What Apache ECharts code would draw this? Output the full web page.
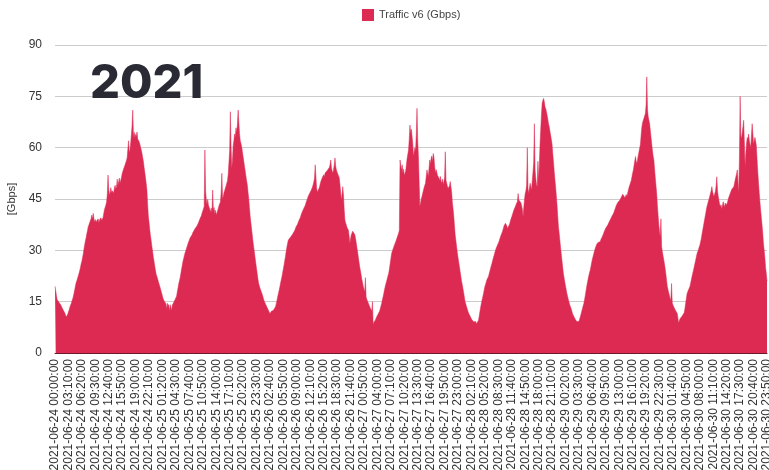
<!DOCTYPE html>
<html>
<head>
<meta charset="utf-8">
<script src="https://cdn.jsdelivr.net/npm/echarts@6/dist/echarts.min.js"></script>
<style>
html,body{margin:0;padding:0;background:#fff;}
#chart{width:769px;height:470px;}
</style>
</head>
<body>
<div id="chart"></div>
<script>
// Category axis: 10-minute samples from 2021-06-24 00:00 to 2021-06-30 23:50
const days = ["2021-06-24","2021-06-25","2021-06-26","2021-06-27","2021-06-28","2021-06-29","2021-06-30"];
const yTicks = [0, 15, 30, 45, 60, 75, 90];
const seriesName = "Traffic v6 (Gbps)";
const yAxisName = "[Gbps]";
const yearTitle = "2021";

// Traffic values (Gbps), one array per day, 144 samples each
const day1 = [
19.5,18.2,16.8,15.6,15.2,15.0,14.6,14.9,14.1,13.6,13.2,12.9,
12.4,12.0,11.6,11.1,10.5,10.9,11.3,12.0,12.6,13.4,13.9,14.5,
15.2,15.8,16.6,17.5,18.6,19.7,20.6,21.2,21.9,22.6,23.3,24.1,
25.0,26.1,26.8,27.9,29.0,30.4,31.6,32.8,33.7,34.9,35.8,36.9,
37.5,38.1,38.6,39.2,40.3,39.1,40.8,39.4,38.2,39.0,38.3,37.8,
38.6,39.2,38.0,38.9,38.4,39.5,38.7,38.9,39.6,40.8,41.9,42.6,
43.3,44.1,46.5,52.0,47.8,46.2,46.9,48.3,46.8,47.4,47.9,46.7,
48.2,49.0,47.9,48.6,50.8,48.9,49.4,51.1,49.6,50.5,51.3,52.4,
53.1,53.8,54.2,54.9,55.6,56.2,57.0,59.5,62.0,58.6,59.3,61.2,
63.8,66.5,71.0,63.1,64.5,62.8,63.9,63.2,64.6,62.5,62.9,61.7,
61.0,60.2,59.3,58.4,57.1,56.0,54.3,52.8,51.2,49.5,47.6,43.5,
40.0,38.2,36.1,34.3,32.9,31.2,29.8,28.1,26.9,25.5,24.3,23.1
];
const day2 = [
22.6,21.8,21.0,20.3,19.6,18.9,18.1,17.4,16.6,15.8,15.3,15.0,
14.6,14.4,12.8,14.5,14.2,13.9,12.2,14.1,13.6,12.4,14.0,14.5,
14.8,15.3,15.7,16.1,16.6,17.9,19.0,20.2,21.1,22.0,23.2,24.5,
25.6,26.8,27.6,28.5,29.3,29.9,30.6,31.2,31.9,32.4,33.0,33.6,
34.1,33.8,34.6,35.2,35.0,35.7,36.3,35.9,36.5,37.2,36.8,38.1,
38.6,39.2,38.9,40.1,40.9,41.5,42.0,42.8,59.3,47.5,44.7,43.4,
44.9,43.2,42.6,43.0,41.3,42.4,40.9,47.6,41.8,42.5,40.6,41.7,
40.3,40.8,41.6,42.3,43.1,42.7,44.2,47.0,52.5,45.1,45.7,46.8,
47.5,48.2,48.9,48.6,50.4,52.3,55.6,59.0,70.5,60.2,54.0,56.3,
60.5,62.1,64.0,63.2,65.8,64.4,66.9,71.0,67.5,64.1,62.0,61.2,
60.3,58.9,57.4,56.0,54.6,53.2,51.7,50.3,49.1,47.0,45.1,42.5,
40.0,38.1,36.3,34.5,32.6,31.0,29.5,27.8,26.2,24.7,23.2,21.6
];
const day3 = [
20.4,19.6,18.9,18.3,17.8,17.2,16.5,15.7,15.1,14.6,14.2,13.8,
13.3,12.9,12.4,11.9,11.5,11.8,12.2,11.7,12.0,12.5,12.3,12.8,
13.6,14.5,15.4,16.5,17.4,18.3,19.3,20.4,21.4,22.3,23.5,24.6,
25.8,27.0,28.3,29.7,31.0,32.1,33.0,33.4,33.1,33.8,34.2,34.0,
34.7,35.2,35.0,35.8,36.3,36.9,37.2,37.6,38.1,38.7,39.0,39.6,
40.3,40.8,41.4,41.9,42.3,42.8,43.2,43.9,44.5,45.1,45.7,46.2,
46.6,47.1,47.4,47.8,48.4,49.1,50.0,51.0,55.0,51.6,48.2,47.0,
46.6,47.5,48.4,49.3,50.1,50.6,51.2,51.7,52.1,51.5,52.6,53.0,
52.4,53.3,53.8,53.1,54.2,55.0,56.4,54.1,53.2,52.5,53.6,55.1,
57.0,54.6,53.5,52.8,53.0,52.5,51.2,49.3,47.0,44.7,46.4,48.6,
46.1,42.0,38.9,38.0,37.4,36.7,36.2,35.9,34.1,32.0,33.4,34.5,
35.0,35.6,36.0,35.4,34.6,33.5,32.3,30.8,29.5,28.0,26.5,25.1
];
const day4 = [
24.0,22.8,21.5,20.6,19.4,18.6,17.8,22.0,16.4,15.7,15.1,14.6,
14.1,13.6,13.1,12.6,12.3,15.0,8.2,9.0,9.4,9.6,10.1,10.6,
11.0,11.4,11.6,12.2,12.9,13.7,14.5,15.5,16.4,17.4,18.4,19.4,
20.2,21.0,21.8,22.6,23.3,24.6,26.1,27.5,29.0,29.7,30.3,30.9,
31.5,32.0,32.6,33.2,33.8,34.4,35.0,35.9,56.4,54.8,53.5,55.0,
52.6,53.8,51.9,51.5,53.2,55.0,56.8,58.1,59.3,62.4,66.6,64.3,
65.4,65.0,61.2,57.4,58.8,60.0,59.2,64.0,71.5,62.0,57.4,50.1,
42.7,43.8,44.9,45.7,46.6,47.5,48.3,49.0,49.6,51.4,53.5,52.6,
51.5,54.0,56.4,55.2,56.9,57.6,55.8,58.3,57.1,54.5,52.5,53.6,
52.8,51.9,52.0,51.1,50.4,51.6,50.2,49.6,50.8,49.3,50.1,51.2,
58.8,50.5,49.6,48.7,48.1,47.6,48.9,50.1,50.5,47.0,44.0,42.1,
40.0,37.2,34.5,32.8,31.1,29.4,27.9,26.5,25.2,23.8,22.4,21.0
];
const day5 = [
20.0,18.8,17.6,16.3,15.0,14.3,13.6,12.9,12.2,11.6,11.2,10.8,
10.3,9.9,9.6,9.4,9.1,8.9,8.7,9.2,8.5,8.2,8.8,9.6,
10.8,12.1,13.4,14.5,15.5,16.4,17.3,18.4,19.4,20.1,20.8,21.5,
22.0,22.3,23.1,23.9,24.7,25.5,26.2,27.0,27.8,28.5,29.3,30.0,
30.6,31.1,31.6,32.0,32.6,33.3,33.9,34.5,35.0,35.6,36.3,37.1,
37.6,37.9,38.3,37.2,36.4,36.0,36.6,37.7,38.5,39.2,39.8,40.5,
41.1,41.8,42.3,42.7,43.3,43.8,44.3,46.6,44.7,45.1,44.2,43.9,
43.7,42.0,39.8,42.5,44.8,46.6,47.4,49.0,60.0,48.1,46.6,48.2,
49.6,48.5,47.6,50.3,52.8,55.6,67.0,53.5,51.0,49.2,48.6,56.0,
50.4,55.2,61.0,65.4,69.6,73.0,73.8,74.4,73.5,72.0,71.4,70.6,
69.5,68.3,67.0,66.1,64.8,63.6,62.4,61.0,58.3,55.9,53.2,50.8,
48.6,46.0,43.4,40.1,37.0,35.1,33.0,30.9,29.0,27.0,25.1,23.3
];
const day6 = [
22.0,20.8,19.6,18.5,17.4,16.5,15.6,14.8,14.1,13.5,12.9,12.2,
11.5,11.0,10.6,10.2,9.8,9.5,9.2,9.0,9.3,9.2,9.9,10.6,
11.4,12.2,13.0,13.8,14.5,15.6,16.8,18.1,19.4,20.5,21.6,22.6,
23.5,24.2,25.3,26.4,27.4,28.2,29.0,29.8,30.5,31.1,31.7,32.0,
32.3,31.9,32.6,32.5,33.1,33.6,34.0,34.5,35.0,35.6,36.1,36.5,
36.8,37.0,37.5,37.9,38.4,38.9,39.2,39.6,40.1,40.5,40.8,41.4,
42.0,42.6,43.2,43.7,44.0,44.3,44.5,44.7,45.1,45.6,46.0,46.4,
46.6,46.0,45.4,45.9,46.3,45.7,46.8,47.6,48.5,49.1,49.6,50.4,
51.5,52.6,53.5,54.8,56.2,57.4,56.0,55.4,56.6,57.8,58.9,60.0,
61.0,63.8,66.0,67.3,68.0,68.6,69.3,70.0,72.5,80.7,71.2,69.0,
69.0,67.0,65.0,63.0,61.0,59.1,57.5,56.4,53.8,51.2,48.9,46.6,
43.0,40.2,37.4,35.5,33.8,39.2,31.0,29.6,28.4,27.2,26.0,24.6
];
const day7 = [
23.0,21.2,19.4,18.5,17.6,16.8,16.0,15.3,20.3,14.6,14.0,13.5,
13.1,12.7,12.3,11.9,11.6,10.2,8.7,9.4,10.0,10.4,10.2,10.8,
10.4,10.6,11.8,13.1,14.6,16.0,17.4,17.9,18.5,18.9,19.4,20.4,
21.4,22.4,23.3,24.2,25.1,26.1,27.0,28.0,29.0,29.6,30.2,30.9,
31.5,32.0,33.3,34.6,35.8,37.0,38.1,39.3,40.4,41.6,42.7,43.5,
44.3,45.0,45.8,46.6,47.4,48.6,47.2,46.3,45.7,46.5,47.2,48.8,
51.5,47.4,45.8,44.6,43.5,42.7,43.3,42.1,43.0,44.2,43.7,42.6,
43.8,43.2,42.7,43.9,44.8,45.5,46.0,46.6,47.2,47.8,48.0,48.3,
48.6,49.5,50.6,51.5,52.4,53.5,50.2,46.6,57.0,75.0,63.4,62.8,
64.5,66.2,68.0,61.5,54.4,58.2,61.0,63.0,62.4,64.0,62.1,61.0,
60.0,63.5,67.0,64.2,61.0,62.2,63.0,61.8,60.4,56.4,52.9,49.8,
46.8,44.2,41.8,39.6,37.4,35.0,32.0,30.1,27.8,25.0,23.2,21.0
];

const values = [].concat(day1, day2, day3, day4, day5, day6, day7);

// Build the category labels (every 10 minutes per day)
const pad = n => (n < 10 ? "0" + n : "" + n);
const categories = [];
days.forEach(d => {
  for (let m = 0; m < 1440; m += 10) {
    categories.push(d + " " + pad(Math.floor(m / 60)) + ":" + pad(m % 60) + ":00");
  }
});

const chart = echarts.init(document.getElementById('chart'), null, {renderer: 'canvas'});
chart.setOption({
  animation: false,
  backgroundColor: '#ffffff',
  legend: {
    left: 357,
    top: 4,
    itemWidth: 12,
    itemHeight: 12,
    itemGap: 10,
    icon: 'rect',
    textStyle: {fontFamily: 'Liberation Sans, Arial, sans-serif', fontSize: 11, color: '#444'},
    data: [seriesName]
  },
  grid: {left: 55, right: 2, top: 45, bottom: 117, containLabel: false, outerBoundsMode: 'none'},
  graphic: [{
    type: 'text',
    left: 90,
    top: 60,
    z: 10,
    style: {
      text: yearTitle,
      fontFamily: 'Inter, Lato, sans-serif',
      fontWeight: 800,
      fontSize: 47,
      fill: '#2a2a35'
    }
  }],
  xAxis: {
    type: 'category',
    boundaryGap: false,
    data: categories,
    axisLine: {show: true, lineStyle: {color: '#6b1a2c', width: 1}},
    axisTick: {show: false},
    axisLabel: {
      interval: 18,
      rotate: 90,
      fontFamily: 'Liberation Sans, Arial, sans-serif',
      fontSize: 12,
      color: '#333',
      margin: 6
    },
    splitLine: {show: false}
  },
  yAxis: {
    type: 'value',
    min: yTicks[0],
    max: yTicks[yTicks.length - 1],
    interval: 15,
    name: yAxisName,
    nameLocation: 'middle',
    nameRotate: 90,
    nameGap: 36,
    nameTextStyle: {fontFamily: 'Liberation Sans, Arial, sans-serif', fontSize: 11, color: '#333'},
    axisLine: {show: false},
    axisTick: {show: false},
    axisLabel: {fontFamily: 'Liberation Sans, Arial, sans-serif', fontSize: 12, color: '#333', margin: 13},
    splitLine: {lineStyle: {color: '#cccccc', width: 1}}
  },
  series: [{
    name: seriesName,
    type: 'line',
    data: values,
    showSymbol: false,
    symbol: 'none',
    sampling: null,
    itemStyle: {color: '#dc2a52'},
    lineStyle: {width: 0.5, color: '#dc2a52'},
    areaStyle: {color: '#dc2a52', opacity: 1}
  }]
});
</script>
</body>
</html>
